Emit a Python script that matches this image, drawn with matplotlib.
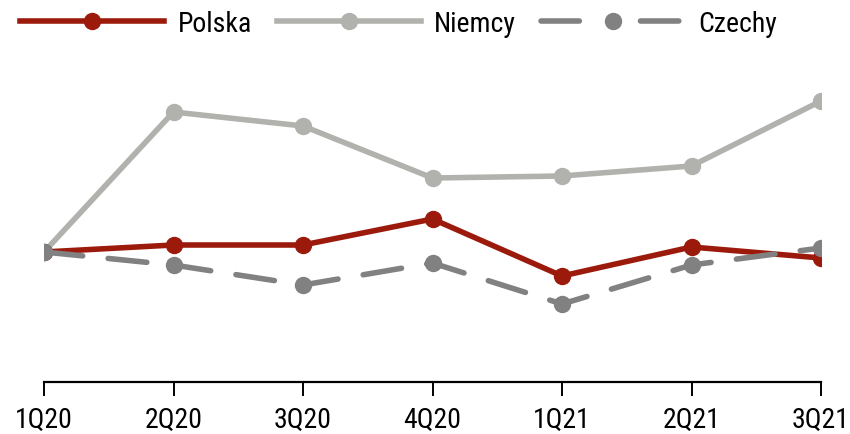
import matplotlib
matplotlib.use("Agg")
import matplotlib.pyplot as plt
from matplotlib import font_manager
from matplotlib.lines import Line2D

quarters = ["1Q20", "2Q20", "3Q20", "4Q20", "1Q21", "2Q21", "3Q21"]
polska = [100.0, 100.7, 100.7, 103.3, 97.6, 100.5, 99.4]
niemcy = [100.0, 114.0, 112.6, 107.4, 107.6, 108.6, 115.1]
czechy = [100.0, 98.7, 96.7, 98.9, 94.8, 98.7, 100.4]

names = {f.name for f in font_manager.fontManager.ttflist}
fam = [f for f in ["Liberation Sans Narrow", "Roboto Condensed", "Archivo Narrow"] if f in names]
plt.rcParams["font.family"] = fam + ["Liberation Sans", "DejaVu Sans"]

fig = plt.figure(figsize=(8.5, 4.35), dpi=100)
ax = fig.add_axes([44/850, 1-383/435, (821-44)/850, (383-30)/435])

x = list(range(len(quarters)))
red = "#9C1A0C"
light = "#B1B1AD"
dark = "#818181"
lw = 4.0
ms = 11.5

ax.plot(x, niemcy, color=light, lw=lw, marker="o", ms=ms, zorder=2)
ax.plot(x, polska, color=red, lw=lw, marker="o", ms=ms, zorder=3)
ax.plot(x, czechy, color=dark, lw=lw, marker="o", ms=ms, zorder=4,
        linestyle=(0, (7.0, 4.6)), dash_capstyle="round")

ax.set_xlim(0, 6)
ax.set_ylim(87, 122.3)
ax.set_xticks(x)
ax.set_xticklabels(quarters, fontsize=20)
ax.set_yticks([])
for s in ["left", "right", "top"]:
    ax.spines[s].set_visible(False)
ax.spines["bottom"].set_linewidth(1.6)
ax.spines["bottom"].set_color("black")
ax.tick_params(axis="x", direction="out", length=10, width=1.4, pad=7, colors="black")

h_pl = Line2D([], [], color=red, lw=lw, marker="o", ms=ms)
h_de = Line2D([], [], color=light, lw=lw, marker="o", ms=ms)
h_cz = Line2D([], [], color=dark, lw=lw, marker="o", ms=ms,
              linestyle=(0, (6.9, 11.0)), dash_capstyle="round")
leg = fig.legend([h_pl, h_de, h_cz], ["Polska", "Niemcy", "Czechy"],
                 loc="center left", bbox_to_anchor=(20/850, 1-24/435), ncol=3,
                 frameon=False, fontsize=20, handlelength=5.2, handletextpad=0.47,
                 columnspacing=0.9, borderaxespad=0, borderpad=0)

fig.savefig("out.png", dpi=100)
